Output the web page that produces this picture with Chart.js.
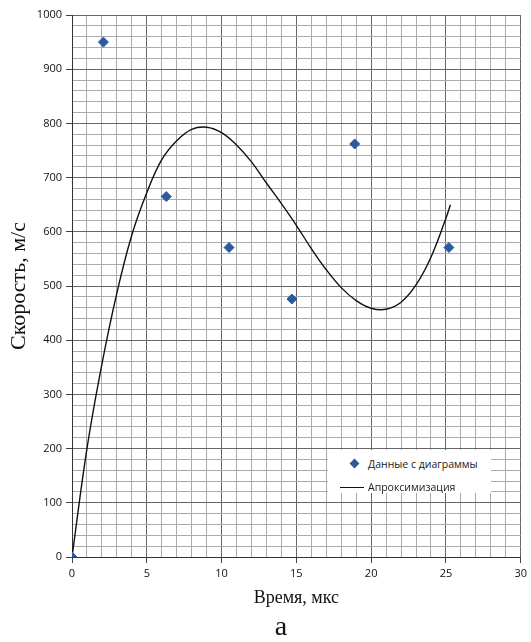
<!DOCTYPE html>
<html>
<head>
<meta charset="utf-8">
<script src="https://cdn.jsdelivr.net/npm/chart.js@4.4.1/dist/chart.umd.min.js"></script>
<style>
  html, body { margin: 0; padding: 0; background: #fff; }
  #wrap { position: relative; width: 531px; height: 642px; }
  #chart { position: absolute; left: 0; top: 0; }
  .legend { position: absolute; left: 328px; top: 450px; width: 163px; height: 43px; background: #fff;
            font-family: "Open Sans", sans-serif; font-size: 10.5px; color: #1a1a1a; }
  .legend .row { position: absolute; left: 0; height: 14px; line-height: 14px; white-space: nowrap; }
  .legend .txt { position: absolute; left: 40px; top: 0; }
  .legend .dia { position: absolute; left: 23px; top: 3px; width: 7px; height: 7px; background: #2c5aa0; transform: rotate(45deg); }
  .legend .ln { position: absolute; left: 12px; top: 7px; width: 24px; height: 1.4px; background: #111; }
  .caption { position: absolute; left: 281px; top: 610px; transform: translateX(-50%);
             font-family: "Liberation Serif", serif; font-size: 28px; color: #111; }
</style>
</head>
<body>
<div id="wrap">
  <canvas id="chart" width="531" height="642"></canvas>
  <div class="legend">
    <div class="row" style="top:7px"><span class="dia"></span><span class="txt">Данные с диаграммы</span></div>
    <div class="row" style="top:30px"><span class="ln"></span><span class="txt">Апроксимизация</span></div>
  </div>
  <div class="caption">а</div>
</div>
<script>
// Точки "Данные с диаграммы" (время, мкс / скорость, м/с)
const dataX = [0, 2.1, 6.3, 10.5, 14.7, 18.9, 25.2];
const dataY = [0, 950, 665, 571, 476, 762, 571];

// Аппроксимирующая кривая
const fitX = [0, 1, 2, 3, 4, 5, 6, 7, 8, 9, 10, 11, 12, 13, 14, 15, 16, 17, 18, 19, 20, 21, 22, 23, 24, 25, 25.3];
const fitY = [0, 200, 356, 487, 594, 672, 733, 768, 789, 793, 783, 760, 729, 690, 652, 612, 569, 530, 497, 473, 459, 457, 470, 502, 553, 625, 650];

const xMin = 0, xMax = 30, xMajor = 5, xMinor = 1;
const yMin = 0, yMax = 1000, yMajor = 100, yMinor = 20;

const MINOR = '#ababab';
const MAJOR = '#666666';

const pts = (xs, ys) => xs.map((x, i) => ({ x, y: ys[i] }));
const isMajor = (v, step) => Math.abs(v / step - Math.round(v / step)) < 1e-6;

const tickFont = { family: '"Open Sans", sans-serif', size: 11 };

new Chart(document.getElementById('chart'), {
  data: {
    datasets: [
      {
        type: 'line',
        label: 'Апроксимизация',
        data: pts(fitX, fitY),
        borderColor: '#111',
        borderWidth: 1.4,
        pointRadius: 0,
        tension: 0.4,
        fill: false,
        order: 2,
      },
      {
        type: 'scatter',
        label: 'Данные с диаграммы',
        data: pts(dataX, dataY),
        pointStyle: 'rectRot',
        pointRadius: 5,
        backgroundColor: '#2c5aa0',
        borderColor: '#2c5aa0',
        order: 1,
      }
    ]
  },
  options: {
    responsive: false,
    animation: false,
    layout: { padding: { top: 15, right: 9, left: 0, bottom: 0 } },
    plugins: { legend: { display: false }, tooltip: { enabled: false } },
    scales: {
      x: {
        type: 'linear', min: xMin, max: xMax,
        afterFit: s => { s.height = 85; },
        border: { display: true, color: '#333', width: 1 },
        grid: {
          color: c => isMajor(c.tick.value, xMajor) ? MAJOR : MINOR,
          tickColor: c => isMajor(c.tick.value, xMajor) ? '#444' : 'rgba(0,0,0,0)',
          tickLength: 6,
        },
        ticks: {
          stepSize: xMinor, autoSkip: false, maxRotation: 0, padding: 4,
          color: '#111', font: tickFont,
          callback: v => isMajor(v, xMajor) ? String(v) : '',
        },
        title: {
          display: true, text: 'Время, мкс', color: '#111',
          font: { family: '"Liberation Serif", serif', size: 18 },
          padding: { top: 0, bottom: 33 },
        }
      },
      y: {
        type: 'linear', min: yMin, max: yMax,
        afterFit: s => { s.width = 72; },
        border: { display: true, color: '#333', width: 1 },
        grid: {
          color: c => isMajor(c.tick.value, yMajor) ? MAJOR : MINOR,
          tickColor: c => isMajor(c.tick.value, yMajor) ? '#444' : 'rgba(0,0,0,0)',
          tickLength: 6,
        },
        ticks: {
          stepSize: yMinor, autoSkip: false, padding: 4,
          color: '#111', font: tickFont,
          callback: v => isMajor(v, yMajor) ? String(v) : '',
        },
        title: {
          display: true, text: 'Скорость, м/с', color: '#111',
          font: { family: '"Liberation Serif", serif', size: 22 },
          padding: { top: 6, bottom: 0 },
        }
      }
    }
  }
});
</script>
</body>
</html>
